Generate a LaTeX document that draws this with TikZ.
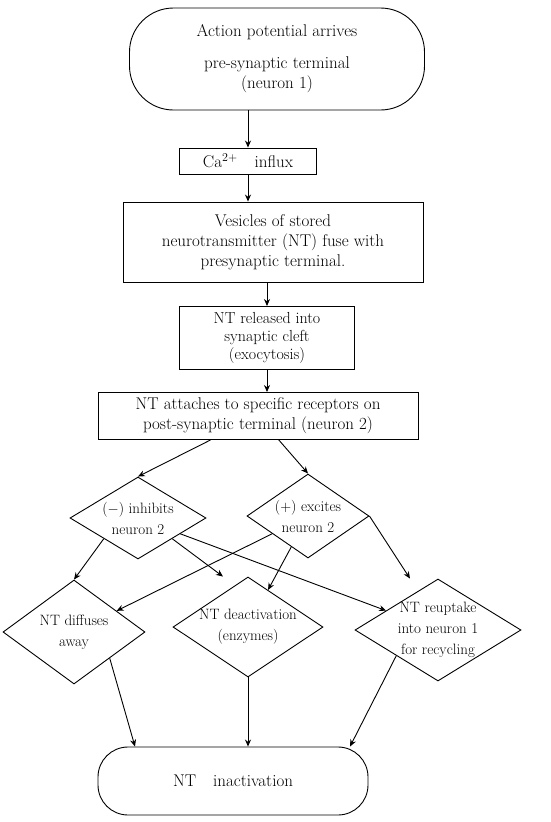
\documentclass[tikz,border=0pt]{standalone}
\usepackage{amsmath}
\usepackage{tikz}
\usetikzlibrary{arrows.meta, shapes.geometric}

\begin{document}
\begin{tikzpicture}[x=1pt, y=-1pt, line width=0.9pt,
        flow/.style={-{Stealth[length=7pt, width=6pt]}},
        stepbox/.style={draw, rectangle, align=center, inner sep=2pt, font=\fontsize{17}{20}\selectfont},
        ends/.style={draw, rectangle, align=center, font=\fontsize{17}{20}\selectfont},
        choice/.style={draw, diamond, align=center, inner xsep=-30pt, inner ysep=-12pt, font=\fontsize{15}{21}\selectfont}]
        \useasboundingbox (0,0) rectangle (550,822);

        % Action potential reaches neuron 1
        \node[ends, rounded corners=44pt, minimum width=295pt, minimum height=102pt] (arrive) at (277,59)
            {Action potential arrives\\[12pt] pre-synaptic terminal\\ (neuron 1)};

        % Calcium
        \node[stepbox, minimum width=137pt, minimum height=26pt] (ca) at (248,161) {Ca$^{2+}$\quad influx};

        % Vesicles
        \node[stepbox, minimum width=300pt, minimum height=80pt] (vesic) at (273,242)
            {Vesicles of stored\\ neurotransmitter (NT) fuse with\\ presynaptic terminal.};

        % Exocytosis
        \node[stepbox, font=\fontsize{16}{18}\selectfont, minimum width=175pt, minimum height=63pt] (release) at (267,338)
            {NT released into\\ synaptic cleft\\ (exocytosis)};

        % Receptors on neuron 2
        \node[stepbox, minimum width=320pt, minimum height=47pt] (attach) at (258,416)
            {NT attaches to specific receptors on\\ post-synaptic terminal (neuron 2)};

        % Effect on neuron 2
        \node[choice, minimum width=136pt, minimum height=82pt] (inhib) at (138,518) {($-$) inhibits\\ neuron 2};
        \node[choice, minimum width=122pt, minimum height=84pt] (excite) at (308,516) {($+$) excites\\ neuron 2};

        % Ways of removing NT
        \node[choice, minimum width=142pt, minimum height=104pt] (diffuse) at (74,632) {NT diffuses\\ away};
        \node[choice, minimum width=150pt, minimum height=100pt] (deact) at (248,627) {NT deactivation\\ (enzymes)};
        \node[choice, minimum width=166pt, minimum height=102pt] (reup) at (438,630) {NT reuptake\\ into neuron 1\\ for recycling};

        % End
        \node[ends, rounded corners=30pt, minimum width=270pt, minimum height=68pt] (inact) at (233,781) {NT\quad inactivation};

        % Main chain
        \draw[flow] (arrive.south -| ca.north) -- (ca.north);
        \draw[flow] (ca.south) -- (ca.south |- vesic.north);
        \draw[flow] (vesic.south -| release.north) -- (release.north);
        \draw[flow] (release.south) -- (release.south |- attach.north);

        % Branches
        \draw[flow] (attach) -- (inhib.north);
        \draw[flow] (attach) -- (excite.north);
        \draw[flow] (inhib.south west) -- (diffuse.north);
        \draw[flow] (inhib.south east) -- ([xshift=-25pt]deact.north);
        \draw[flow] (inhib) -- (reup);
        \draw[flow] (excite) -- (diffuse);
        \draw[flow] (excite) -- (deact);
        \draw[flow] (excite.east) -- ([xshift=-28pt]reup.north);

        % Into inactivation
        \draw[flow] (diffuse.south east) -- ([xshift=-98pt]inact.north);
        \draw[flow] (deact.south) -- (deact.south |- inact.north);
        \draw[flow] (reup.south west) -- ([xshift=117pt]inact.north);
    \end{tikzpicture}
\end{document}
